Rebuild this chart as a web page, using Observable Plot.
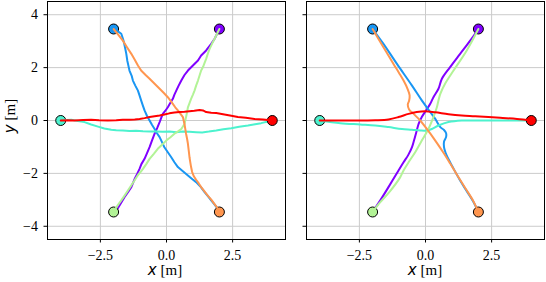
<!DOCTYPE html>
<html>
<head>
<meta charset="utf-8">
<script src="https://cdn.jsdelivr.net/npm/d3@7"></script>
<script src="https://cdn.jsdelivr.net/npm/@observablehq/plot@0.6"></script>
<style>
  html, body { margin: 0; padding: 0; background: white; }
  #fig { position: relative; width: 546px; height: 282px; background: white; }
  #fig svg { position: absolute; top: 0; }
</style>
</head>
<body>
<div id="fig"></div>
<script>
// ---- data ----
const startX = [2, -2, -4, -2, 2, 4];
const startY = [3.46, 3.46, 0, -3.46, -3.46, 0];
const xTicks = [-2.5, 0, 2.5];
const yTicks = [-4, -2, 0, 2, 4];
const palette = ["#8000ff", "#1996f3", "#4cf2ce", "#b2f396", "#ff964f", "#ff0000"];

// left panel (noisy trajectories)
const purpleL = [[2.0,3.46],[1.82,3.09],[1.69,2.90],[1.50,2.65],[1.31,2.46],[1.19,2.27],[1.00,2.08],[0.81,1.89],[0.68,1.72],[0.56,1.51],[0.45,1.30],[0.37,1.13],[0.30,0.98],[0.24,0.82],[0.12,0.62],[0.05,0.50],[-0.05,0.36],[-0.14,0.25],[-0.20,0.10],[-0.26,-0.06],[-0.35,-0.28],[-0.45,-0.50],[-0.55,-0.76],[-0.64,-1.01],[-0.74,-1.24],[-0.83,-1.45],[-0.95,-1.65],[-1.02,-1.83],[-1.10,-2.00],[-1.20,-2.20],[-1.33,-2.52],[-1.45,-2.70],[-1.59,-2.90],[-1.72,-3.12],[-1.84,-3.32],[-2.0,-3.46]];
const blueL = [[-2.0,3.46],[-1.85,3.38],[-1.71,3.28],[-1.65,3.10],[-1.61,2.96],[-1.56,2.72],[-1.52,2.52],[-1.48,2.25],[-1.42,1.98],[-1.40,1.89],[-1.32,1.70],[-1.27,1.51],[-1.18,1.32],[-1.08,1.13],[-1.02,0.95],[-0.96,0.76],[-0.90,0.58],[-0.83,0.38],[-0.74,0.18],[-0.64,0.0],[-0.55,-0.16],[-0.45,-0.32],[-0.36,-0.48],[-0.26,-0.63],[-0.17,-0.82],[-0.08,-1.01],[0.05,-1.20],[0.18,-1.39],[0.30,-1.58],[0.43,-1.76],[0.62,-1.92],[0.81,-2.08],[0.98,-2.22],[1.12,-2.33],[1.30,-2.52],[1.44,-2.71],[1.58,-2.88],[1.69,-3.02],[1.82,-3.18],[1.94,-3.34],[2.0,-3.46]];
const cyanL = [[-4.0,0.0],[-3.80,0.02],[-3.60,0.03],[-3.35,-0.02],[-3.10,-0.06],[-2.85,-0.15],[-2.59,-0.23],[-2.35,-0.30],[-2.09,-0.35],[-1.90,-0.37],[-1.65,-0.38],[-1.40,-0.40],[-1.15,-0.39],[-0.89,-0.41],[-0.64,-0.42],[-0.39,-0.42],[-0.14,-0.43],[0.11,-0.42],[0.37,-0.44],[0.62,-0.42],[0.87,-0.43],[1.12,-0.44],[1.35,-0.45],[1.60,-0.42],[1.88,-0.38],[2.15,-0.33],[2.45,-0.29],[2.75,-0.24],[3.08,-0.19],[3.35,-0.14],[3.58,-0.10],[3.80,-0.05],[4.0,0.0]];
const greenL = [[-2.0,-3.46],[-1.97,-3.40],[-1.84,-3.20],[-1.71,-3.02],[-1.58,-2.83],[-1.46,-2.65],[-1.33,-2.45],[-1.21,-2.27],[-1.08,-2.06],[-0.96,-1.92],[-0.89,-1.83],[-0.76,-1.64],[-0.64,-1.45],[-0.48,-1.26],[-0.33,-1.07],[-0.17,-0.92],[-0.01,-0.76],[0.15,-0.63],[0.30,-0.50],[0.45,-0.40],[0.56,-0.32],[0.68,-0.13],[0.74,0.13],[0.78,0.32],[0.81,0.50],[0.87,0.66],[0.93,0.82],[1.00,0.98],[1.06,1.13],[1.12,1.32],[1.19,1.51],[1.25,1.70],[1.31,1.89],[1.38,2.02],[1.44,2.18],[1.50,2.33],[1.56,2.52],[1.63,2.71],[1.72,2.90],[1.82,3.09],[1.92,3.30],[2.0,3.46]];
const orangeL = [[-2.0,3.46],[-1.82,3.24],[-1.65,3.02],[-1.50,2.78],[-1.33,2.52],[-1.20,2.30],[-1.08,2.08],[-0.96,1.89],[-0.80,1.73],[-0.64,1.58],[-0.45,1.39],[-0.26,1.20],[-0.10,1.04],[0.05,0.88],[0.15,0.75],[0.24,0.63],[0.33,0.50],[0.43,0.38],[0.53,0.25],[0.62,0.13],[0.68,-0.13],[0.71,-0.32],[0.74,-0.50],[0.78,-0.70],[0.81,-0.88],[0.84,-1.13],[0.87,-1.39],[0.90,-1.58],[0.93,-1.76],[0.97,-1.95],[1.04,-2.12],[1.12,-2.24],[1.22,-2.38],[1.31,-2.52],[1.45,-2.70],[1.56,-2.84],[1.70,-3.00],[1.81,-3.15],[1.92,-3.30],[2.0,-3.46]];
const redL = [[-4.0,0.0],[-3.75,0.01],[-3.48,0.0],[-3.15,0.02],[-2.85,0.03],[-2.55,0.01],[-2.22,0.0],[-1.90,0.01],[-1.65,0.03],[-1.40,0.03],[-1.20,0.04],[-1.02,0.06],[-0.83,0.09],[-0.64,0.13],[-0.45,0.16],[-0.26,0.19],[-0.08,0.23],[0.11,0.27],[0.30,0.30],[0.49,0.32],[0.68,0.33],[0.87,0.35],[1.05,0.37],[1.25,0.40],[1.38,0.38],[1.50,0.32],[1.69,0.29],[1.88,0.28],[2.19,0.23],[2.45,0.18],[2.70,0.13],[3.00,0.10],[3.33,0.06],[3.65,0.04],[4.0,0.0]];

// right panel (smooth trajectories)
const purpleR = [[2.0,3.46],[1.69,3.02],[1.31,2.52],[0.93,2.02],[0.62,1.58],[0.49,1.20],[0.30,0.88],[0.18,0.63],[0.02,0.38],[-0.14,0.13],[-0.26,-0.13],[-0.33,-0.38],[-0.40,-0.63],[-0.51,-1.01],[-0.65,-1.30],[-0.83,-1.58],[-1.02,-1.89],[-1.40,-2.52],[-1.71,-3.02],[-2.0,-3.46]];
const blueR = [[-2.0,3.46],[-1.59,2.90],[-1.08,2.14],[-0.51,1.32],[-0.14,0.76],[0.18,0.32],[0.37,0.06],[0.56,-0.25],[0.70,-0.36],[0.78,-0.48],[0.78,-0.62],[0.70,-0.80],[0.70,-1.01],[0.76,-1.22],[0.93,-1.58],[1.06,-1.82],[1.31,-2.27],[1.56,-2.67],[1.81,-3.07],[2.0,-3.46]];
const cyanR = [[-4.0,0.0],[-3.22,-0.10],[-2.47,-0.15],[-1.90,-0.19],[-1.40,-0.25],[-0.89,-0.32],[-0.51,-0.35],[-0.20,-0.38],[0.05,-0.38],[0.24,-0.32],[0.49,-0.19],[0.87,-0.06],[1.37,0.0],[1.88,0.0],[2.82,0.0],[4.0,0.0]];
const greenR = [[-2.0,-3.46],[-1.71,-3.09],[-1.33,-2.66],[-0.96,-2.15],[-0.83,-1.89],[-0.64,-1.58],[-0.39,-1.20],[-0.14,-0.76],[0.11,-0.32],[0.30,0.13],[0.43,0.50],[0.49,0.76],[0.56,1.01],[0.74,1.39],[1.06,1.89],[1.56,2.65],[2.0,3.46]];
const orangeR = [[-2.0,3.46],[-1.59,2.77],[-1.21,2.14],[-1.00,1.80],[-0.83,1.51],[-0.68,1.20],[-0.60,0.95],[-0.62,0.75],[-0.67,0.60],[-0.62,0.42],[-0.45,0.25],[-0.20,0.0],[0.05,-0.32],[0.37,-0.76],[0.68,-1.22],[0.93,-1.62],[1.19,-2.05],[1.50,-2.55],[1.81,-3.05],[2.0,-3.46]];
const redR = [[-4.0,0.0],[-2.85,0.0],[-1.90,0.01],[-1.40,0.04],[-1.02,0.13],[-0.64,0.25],[-0.33,0.32],[-0.01,0.35],[0.37,0.31],[0.87,0.24],[1.37,0.19],[1.88,0.16],[2.82,0.10],[3.46,0.06],[4.0,0.0]];

const leftTrajs = [purpleL, blueL, cyanL, greenL, orangeL, redL];
const rightTrajs = [purpleR, blueR, cyanR, greenR, orangeR, redR];

// ---- drawing ----
const SERIF = "'Liberation Serif', 'DejaVu Serif', serif";
const fig = document.getElementById("fig");
const H = 282, MT = 1, MB = 43;

function panel(trajs, {width, marginLeft, marginRight, showY, curve}) {
  const marks = [
    Plot.ruleX(xTicks, {stroke: "#cbcbcb", strokeWidth: 1}),
    Plot.ruleY(yTicks, {stroke: "#cbcbcb", strokeWidth: 1})
  ];
  trajs.forEach((t, i) => {
    marks.push(Plot.dot([i], {x: j => startX[j], y: j => startY[j], r: 5, fill: palette[i], stroke: "black", strokeWidth: 1}));
    marks.push(Plot.line(t, {x: d => d[0], y: d => d[1], stroke: palette[i], strokeWidth: 2, curve, strokeLinejoin: "round"}));
  });
  marks.push(Plot.frame({stroke: "black", strokeWidth: 1}));
  const svg = Plot.plot({
    width, height: H, marginLeft, marginRight, marginTop: MT, marginBottom: MB,
    style: {fontFamily: SERIF, fontSize: "14px", background: "transparent", overflow: "visible", color: "black"},
    x: {domain: [-4.5, 4.5], ticks: xTicks, tickFormat: d3.format(".1f"), tickSize: 3.5, tickPadding: 7, label: null},
    y: {domain: [-4.5, 4.5], ticks: yTicks, tickFormat: showY ? d3.format("d") : () => "", tickSize: 3.5, tickPadding: 6, label: null},
    marks
  });
  d3.select(svg).selectAll("text").style("font-family", SERIF).style("font-size", "14px");
  return svg;
}

function addLabel(svg, x, y, letter, rotate) {
  const t = d3.select(svg).append("text")
    .attr("text-anchor", "middle")
    .attr("fill", "black")
    .style("font-family", SERIF)
    .style("font-size", "15px")
    .attr("transform", rotate ? `translate(${x},${y}) rotate(-90)` : `translate(${x},${y})`);
  t.append("tspan").style("font-family", "'DejaVu Sans', sans-serif").style("font-style", "italic").text(letter);
  t.append("tspan").style("font-family", SERIF).text(" [m]");
}

const left = panel(leftTrajs, {width: 290, marginLeft: 47, marginRight: 5, showY: true, curve: "linear"});
left.style.left = "0px";
fig.appendChild(left);
addLabel(left, 165, 275, "x", false);
addLabel(left, 15, 116, "y", true);

const right = panel(rightTrajs, {width: 256, marginLeft: 16, marginRight: 2, showY: false, curve: "catmull-rom"});
right.style.left = "290px";
fig.appendChild(right);
addLabel(right, 135, 275, "x", false);
</script>
</body>
</html>
